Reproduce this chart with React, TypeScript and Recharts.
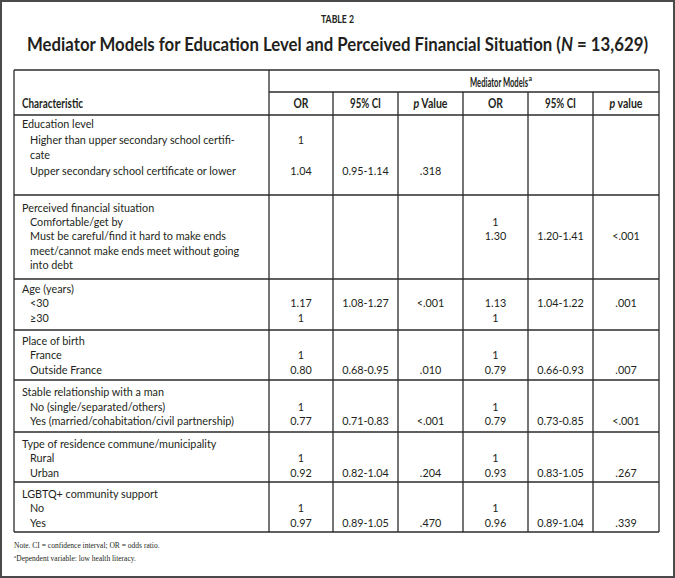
import React from "react";
import { Surface, Layer, Text } from "recharts";

// ---- data ----
const tableLabel = "TABLE 2";
const titleMain = "Mediator Models for Education Level and Perceived Financial Situation (";
const titleN = "N";
const titleEnd = " = 13,629)";
const headerGroup = "Mediator Models";
const headerCols = ["OR", "95% CI", "p Value", "OR", "95% CI", "p value"];
const characteristicLines: string[][] = [
  ["Education level", "Higher than upper secondary school certifi-", "cate", "Upper secondary school certificate or lower"],
  ["Perceived financial situation", "Comfortable/get by", "Must be careful/find it hard to make ends", "meet/cannot make ends meet without going", "into debt"],
  ["Age (years)", "<30", "≥30"],
  ["Place of birth", "France", "Outside France"],
  ["Stable relationship with a man", "No (single/separated/others)", "Yes (married/cohabitation/civil partnership)"],
  ["Type of residence commune/municipality", "Rural", "Urban"],
  ["LGBTQ+ community support", "No", "Yes"],
];
const or1: string[][] = [["", "1", "", "1.04"], [], ["", "1.17", "1"], ["", "1", "0.80"], ["", "1", "0.77"], ["", "1", "0.92"], ["", "1", "0.97"]];
const ci1: string[][] = [["", "", "", "0.95-1.14"], [], ["", "1.08-1.27"], ["", "", "0.68-0.95"], ["", "", "0.71-0.83"], ["", "", "0.82-1.04"], ["", "", "0.89-1.05"]];
const p1: string[][] = [["", "", "", ".318"], [], ["", "<.001"], ["", "", ".010"], ["", "", "<.001"], ["", "", ".204"], ["", "", ".470"]];
const or2: string[][] = [[], ["", "1", "1.30"], ["", "1.13", "1"], ["", "1", "0.79"], ["", "1", "0.79"], ["", "1", "0.93"], ["", "1", "0.96"]];
const ci2: string[][] = [[], ["", "", "1.20-1.41"], ["", "1.04-1.22"], ["", "", "0.66-0.93"], ["", "", "0.73-0.85"], ["", "", "0.83-1.05"], ["", "", "0.89-1.04"]];
const p2: string[][] = [[], ["", "", "<.001"], ["", ".001"], ["", "", ".007"], ["", "", "<.001"], ["", "", ".267"], ["", "", ".339"]];
const note1 = "Note. CI = confidence interval; OR = odds ratio.";
const note2 = "Dependent variable: low health literacy.";

// ---- layout ----
const W = 675;
const H = 578;
const colX = [14, 269, 333, 398, 463, 528, 593, 659];
const tableTop = 70;
const headerMid = 92;
const headerBottom = 115;
const groupTops = [115, 195, 279, 330, 380, 432, 482];
const tableBottom = 532;
const firstOffset = [9, 13, 10, 11, 12, 12, 12];
const spacing = [15.7, 14.3, 14.6, 14.6, 14.8, 14.6, 14.6];

const BODY_FONT = "Lato, 'Open Sans', sans-serif";
const COND_FONT = "Lato, 'Open Sans', sans-serif";
const SERIF_FONT = "'Liberation Serif', 'DejaVu Serif', serif";
const INK = "#231f20";
const RULE = "#2b2b2b";

const lineY = (g: number, i: number) => groupTops[g] + firstOffset[g] + i * spacing[g];

const valueCols = [or1, ci1, p1, or2, ci2, p2];
const headerWidths = [15, 31, 34, 15, 31, 33];

export default function App() {
  const hLines: React.ReactNode[] = [];
  [tableTop, headerBottom, ...groupTops.slice(1), tableBottom].forEach((y, i) =>
    hLines.push(<line key={"h" + i} x1={colX[0]} x2={colX[7]} y1={y} y2={y} stroke={RULE} strokeWidth={1.3} />)
  );
  hLines.push(<line key="hm" x1={colX[1]} x2={colX[7]} y1={headerMid} y2={headerMid} stroke={RULE} strokeWidth={1.3} />);
  const vLines = colX.map((x, i) => {
    const top = i >= 2 && i <= 6 ? headerMid : tableTop;
    return <line key={"v" + i} x1={x} x2={x} y1={top} y2={tableBottom} stroke={RULE} strokeWidth={1.3} />;
  });

  const charTexts: React.ReactNode[] = [];
  characteristicLines.forEach((lines, g) =>
    lines.forEach((t, i) =>
      charTexts.push(
        <Text key={`c${g}-${i}`} x={i === 0 ? 22 : 30} y={lineY(g, i)} verticalAnchor="middle" textAnchor="start"
          fontFamily={BODY_FONT} fontSize={10.8} fill={INK}>
          {t}
        </Text>
      )
    )
  );

  const valTexts: React.ReactNode[] = [];
  valueCols.forEach((col, c) => {
    const cx = (colX[c + 1] + colX[c + 2]) / 2;
    col.forEach((vals, g) =>
      vals.forEach((v, i) => {
        if (!v) return;
        valTexts.push(
          <Text key={`v${c}-${g}-${i}`} x={cx} y={lineY(g, i)} verticalAnchor="middle" textAnchor="middle"
            fontFamily={BODY_FONT} fontSize={10.8} fill={INK}>
            {v}
          </Text>
        );
      })
    );
  });

  const headerTexts = headerCols.map((h, c) => {
    const cx = (colX[c + 1] + colX[c + 2]) / 2;
    const italicP = h.startsWith("p ");
    return (
      <text key={"hc" + c} x={cx} y={108} textAnchor="middle" fontFamily={COND_FONT} fontWeight="bold" fontSize={13.5}
        fill={INK} textLength={headerWidths[c]} lengthAdjust="spacingAndGlyphs">
        {italicP ? (
          <>
            <tspan fontStyle="italic">p</tspan>
            <tspan>{h.slice(1)}</tspan>
          </>
        ) : (
          h
        )}
      </text>
    );
  });

  return (
    <div style={{ position: "absolute", left: 0, top: 0, width: W, height: H, background: "#fff" }}>
      <Surface width={W} height={H} viewBox={{ x: 0, y: 0, width: W, height: H }}>
        <Layer>
          <rect x={1} y={1} width={W - 2} height={H - 2} fill="#fff" stroke="#4a4a4a" strokeWidth={2} />
          <text x={W / 2} y={23} textAnchor="middle" fontFamily={COND_FONT} fontWeight="bold" fontSize={11.5} fill={INK}
            textLength={33} lengthAdjust="spacingAndGlyphs">
            {tableLabel}
          </text>
          <text x={W / 2} y={51} textAnchor="middle" fontFamily={COND_FONT} fontWeight="bold" fontSize={18} fill={INK}
            textLength={621} lengthAdjust="spacingAndGlyphs">
            <tspan>{titleMain}</tspan>
            <tspan fontStyle="italic">{titleN}</tspan>
            <tspan>{titleEnd}</tspan>
          </text>
        </Layer>
        <Layer>
          {hLines}
          {vLines}
        </Layer>
        <Layer>
          <text x={499} y={87} textAnchor="middle" fontFamily={COND_FONT} fontWeight="bold" fontSize={13.5} fill={INK}
            textLength={58} lengthAdjust="spacingAndGlyphs">
            {headerGroup}
          </text>
          <text x={528.5} y={81} textAnchor="start" fontFamily={COND_FONT} fontWeight="bold" fontSize={7} fill={INK}>
            a
          </text>
          <text x={22} y={108} textAnchor="start" fontFamily={COND_FONT} fontWeight="bold" fontSize={13.5} fill={INK}
            textLength={61} lengthAdjust="spacingAndGlyphs">
            Characteristic
          </text>
          {headerTexts}
        </Layer>
        <Layer>
          {charTexts}
          {valTexts}
        </Layer>
        <Layer>
          <text x={14} y={548} fontFamily={SERIF_FONT} fontSize={7.5} fill={INK}>
            {note1}
          </text>
          <text x={14} y={561} fontFamily={SERIF_FONT} fontSize={7.5} fill={INK}>
            <tspan fontSize={5} dy={-3}>a</tspan>
            <tspan dy={3}>{note2}</tspan>
          </text>
        </Layer>
      </Surface>
    </div>
  );
}
